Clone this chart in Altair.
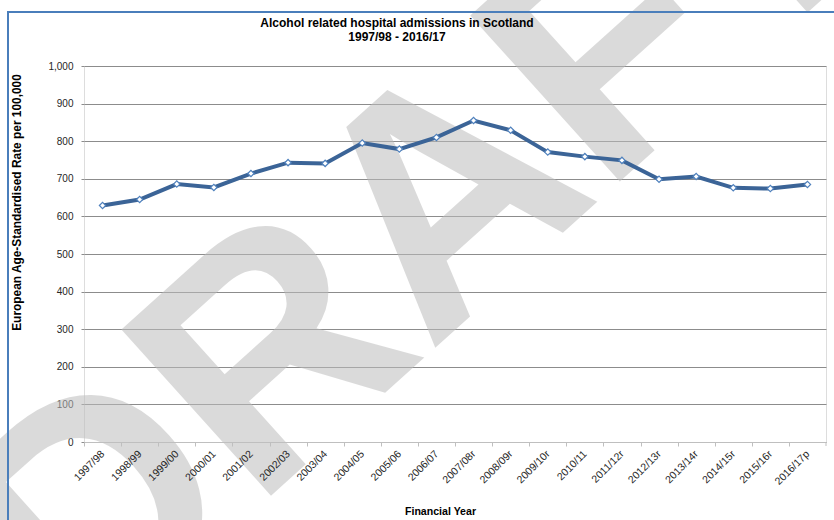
import altair as alt
import pandas as pd

# Financial years and European age-standardised rates per 100,000
years = ["1997/98", "1998/99", "1999/00", "2000/01", "2001/02", "2002/03",
         "2003/04", "2004/05", "2005/06", "2006/07", "2007/08r", "2008/09r",
         "2009/10r", "2010/11", "2011/12r", "2012/13r", "2013/14r", "2014/15r",
         "2015/16r", "2016/17p"]
rates = [629, 645, 686, 677, 714, 743, 741, 795, 779, 810,
         855, 829, 771, 759, 749, 699, 706, 676, 674, 685]

title_lines = ["Alcohol related hospital admissions in Scotland", "1997/98 - 2016/17"]
y_title = "European Age-Standardised Rate per 100,000"
x_title = "Financial Year"
watermark = "DRAFT"

W, H = 742, 376
step = W / len(years)
FONT = "Liberation Sans"

df = pd.DataFrame({"year": years, "rate": rates})
one = pd.DataFrame({"k": [0]})

x_enc = alt.X(
    "year:O", sort=None,
    scale=alt.Scale(type="point", padding=0.5),
    axis=alt.Axis(
        title=x_title, labelAngle=-45, labelAlign="right", labelBaseline="middle",
        tickOffset=-step / 2, labelOffset=step / 2, labelPadding=6,
        tickSize=4, tickColor="#bfbfbf", domainColor="#bfbfbf",
        labelFont=FONT, labelFontSize=10.5, labelColor="#262626",
        titleFont=FONT, titleFontSize=10.6, titleFontWeight="bold", titleColor="#000000",
        titleX=356, titleY=64, titleBaseline="top", grid=False, zindex=1,
    ),
)
y_enc = alt.Y(
    "rate:Q",
    scale=alt.Scale(domain=[0, 1000], nice=False),
    axis=alt.Axis(
        title=y_title, values=list(range(0, 1001, 100)), format=",d",
        domain=False, tickSize=3, tickColor="#8c8c8c", labelPadding=8,
        gridColor="#8c8c8c", gridWidth=1,
        labelFont=FONT, labelFontSize=10, labelColor="#262626",
        titleFont=FONT, titleFontSize=11.9, titleFontWeight="bold", titleColor="#000000",
        titleX=-62, titleY=136, titleAngle=270, titleAlign="center",
        titleBaseline="bottom",
    ),
)

# faint DRAFT stamp across the figure
stamp = alt.Chart(one).mark_text(
    text=watermark, font=FONT, fontWeight="bold", fontSize=325, angle=318,
    align="center", baseline="middle", color="#bdbdbd", opacity=0.55,
).encode(x=alt.value(340), y=alt.value(160))

# outer frame of the figure
frame = alt.Chart(one).mark_rect(
    fill=None, stroke="#4a7ebb", strokeWidth=2,
).encode(x=alt.value(-76), x2=alt.value(W + 40), y=alt.value(-54), y2=alt.value(H + 120))

# two-line heading above the plot
heading = alt.Chart(one).mark_text(
    text=title_lines, lineHeight=14, font=FONT, fontSize=12, fontWeight="bold",
    color="#000000", align="center", baseline="alphabetic",
).encode(x=alt.value(313), y=alt.value(-39))

# closing tick at the right end of the category axis
end_tick = alt.Chart(one).mark_rule(color="#bfbfbf").encode(
    x=alt.value(W), y=alt.value(H), y2=alt.value(H + 4)
)

base = alt.Chart(df).encode(x=x_enc, y=y_enc)
line = base.mark_line(color="#3b6497", strokeWidth=4)
points = base.mark_point(
    shape="diamond", size=40, filled=True, fill="#ffffff", stroke="#4f81bd",
    strokeWidth=1.2, opacity=1,
)

chart = alt.layer(stamp, line, points, end_tick, frame, heading).properties(
    width=W, height=H,
    autosize=alt.AutoSizeParams(type="none"),
    padding={"left": 84, "top": 66, "right": 8, "bottom": 78},
).configure_view(stroke=None).configure(background="#ffffff")

chart.save("out.html", embed_options={"renderer": "svg", "actions": False})
